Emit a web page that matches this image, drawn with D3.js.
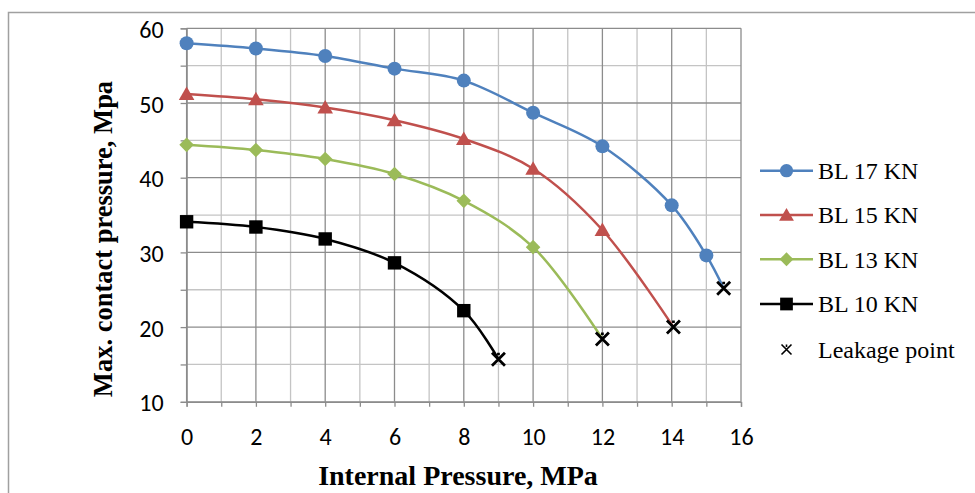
<!DOCTYPE html>
<html><head><meta charset="utf-8">
<script src="https://cdn.jsdelivr.net/npm/d3@7"></script>
<style>html,body{margin:0;padding:0;background:#fff;}svg{display:block;}</style>
</head><body>
<svg id="chart" width="975" height="493"></svg>
<script>
// ---- data ----
const seriesNames = ["BL 17 KN", "BL 15 KN", "BL 13 KN", "BL 10 KN"];
const x17 = [0, 2, 4, 6, 8, 10, 12, 14, 15];
const y17 = [58.0, 57.3, 56.3, 54.6, 53.0, 48.7, 44.2, 36.3, 29.6];
const x15 = [0, 2, 4, 6, 8, 10, 12];
const y15 = [51.2, 50.5, 49.4, 47.7, 45.2, 41.2, 33.0];
const x13 = [0, 2, 4, 6, 8, 10];
const y13 = [44.4, 43.7, 42.5, 40.5, 36.9, 30.7];
const x10 = [0, 2, 4, 6, 8];
const y10 = [34.1, 33.4, 31.8, 28.6, 22.2];
// leakage points (end of each curve), order: 17, 15, 13, 10
const leakX = [15.5, 14.05, 12.0, 9.0];
const leakY = [25.2, 20.0, 18.4, 15.7];
const xTicks = [0, 2, 4, 6, 8, 10, 12, 14, 16];
const yTicks = [10, 20, 30, 40, 50, 60];
const colors = ["#4F81BD", "#C0504D", "#9BBB59", "#000000"];
const markers = ["circle", "triangle", "diamond", "square"];

const svg = d3.select("#chart");
const x = d3.scaleLinear().domain([0, 16]).range([186.6, 741]);
const y = d3.scaleLinear().domain([10, 60]).range([401.8, 28.3]);

// outer border
svg.append("rect").attr("x", 8.5).attr("y", 12.5).attr("width", 1000).attr("height", 600)
  .attr("fill", "none").attr("stroke", "#a0a0a0").attr("stroke-width", 1.5);

// minor gridlines
const g = svg.append("g");
d3.range(1, 16, 2).forEach(v => g.append("line").attr("x1", x(v)).attr("x2", x(v))
  .attr("y1", y(10)).attr("y2", y(60)).attr("stroke", "#c4c4c4").attr("stroke-width", 1.3));
d3.range(15, 60, 10).forEach(v => g.append("line").attr("x1", x(0)).attr("x2", x(16))
  .attr("y1", y(v)).attr("y2", y(v)).attr("stroke", "#c4c4c4").attr("stroke-width", 1.3));
// major gridlines
xTicks.forEach(v => g.append("line").attr("x1", x(v)).attr("x2", x(v))
  .attr("y1", y(10)).attr("y2", y(60)).attr("stroke", "#8c8c8c").attr("stroke-width", 1.3));
yTicks.forEach(v => g.append("line").attr("x1", x(0)).attr("x2", x(16))
  .attr("y1", y(v)).attr("y2", y(v)).attr("stroke", "#8c8c8c").attr("stroke-width", 1.3));

// axes
const tickFont = "Carlito, 'Open Sans', 'Noto Sans', sans-serif";
const xAxis = d3.axisBottom(x).tickValues(d3.range(0, 17, 1)).tickSize(5).tickFormat(d => xTicks.includes(d) ? d : "");
const gx = svg.append("g").attr("transform", `translate(0,${y(10)})`).call(xAxis);
gx.attr("font-size", null).attr("font-family", null);
gx.select(".domain").attr("stroke", "#8c8c8c").attr("stroke-width", 1.3);
gx.selectAll(".tick line").attr("stroke", "#8c8c8c").attr("stroke-width", 1.3);
gx.selectAll(".tick text").style("font-family", tickFont).style("font-size", "24px")
  .attr("fill", "#000").attr("dy", "0").attr("y", 43);

const yAxis = d3.axisLeft(y).tickValues(d3.range(10, 61, 5)).tickSize(6).tickFormat(d => yTicks.includes(d) ? d : "");
const gy = svg.append("g").attr("transform", `translate(${x(0)},0)`).call(yAxis);
gy.attr("font-size", null).attr("font-family", null);
gy.select(".domain").attr("stroke", "#8c8c8c").attr("stroke-width", 1.3);
gy.selectAll(".tick line").attr("stroke", "#8c8c8c").attr("stroke-width", 1.3);
gy.selectAll(".tick text").style("font-family", tickFont).style("font-size", "24px")
  .attr("fill", "#000").attr("x", -23).attr("dy", "0.38em");

// curves
const xsAll = [x17, x15, x13, x10];
const ysAll = [y17, y15, y13, y10];
const line = d3.line().x(d => x(d[0])).y(d => y(d[1])).curve(d3.curveCatmullRom.alpha(0.5));

function drawMarker(sel, type, cx, cy, color, s) {
  if (type === "circle") {
    sel.append("circle").attr("cx", cx).attr("cy", cy).attr("r", 7 * s).attr("fill", color);
  } else if (type === "triangle") {
    const w = 7.8 * s, h = 13.5 * s;
    sel.append("path").attr("d", `M${cx},${cy - h * 0.55}L${cx + w},${cy + h * 0.45}L${cx - w},${cy + h * 0.45}Z`).attr("fill", color);
  } else if (type === "diamond") {
    const r = 7.3 * s;
    sel.append("path").attr("d", `M${cx},${cy - r}L${cx + r},${cy}L${cx},${cy + r}L${cx - r},${cy}Z`).attr("fill", color);
  } else if (type === "square") {
    const r = 6.7 * s;
    sel.append("rect").attr("x", cx - r).attr("y", cy - r).attr("width", 2 * r).attr("height", 2 * r).attr("fill", color);
  }
}
function drawLeak(sel, cx, cy, r, sw) {
  sel.append("path").attr("d", `M${cx - r},${cy - r}L${cx + r},${cy + r}M${cx - r},${cy + r}L${cx + r},${cy - r}M${cx},${cy - r}L${cx},${cy - r + 2.5}`)
    .attr("stroke", "#000").attr("stroke-width", sw).attr("fill", "none");
}

const plot = svg.append("g");
xsAll.forEach((xs, i) => {
  const pts = xs.map((v, j) => [v, ysAll[i][j]]).concat([[leakX[i], leakY[i]]]);
  plot.append("path").attr("d", line(pts)).attr("fill", "none").attr("stroke", colors[i]).attr("stroke-width", 2.5);
});
xsAll.forEach((xs, i) => {
  xs.forEach((v, j) => drawMarker(plot, markers[i], x(v), y(ysAll[i][j]), colors[i], 1));
});
leakX.forEach((v, i) => drawLeak(plot, x(v), y(leakY[i]), 6.5, 2.8));

// axis titles
svg.append("text").attr("x", 458).attr("y", 485).attr("text-anchor", "middle")
  .attr("font-family", "'Liberation Serif', 'Times New Roman', serif").attr("font-weight", "bold").attr("font-size", 28)
  .text("Internal Pressure, MPa");
svg.append("text").attr("transform", "translate(112,239) rotate(-90)").attr("text-anchor", "middle")
  .attr("font-family", "'Liberation Serif', 'Times New Roman', serif").attr("font-weight", "bold").attr("font-size", 26.5)
  .text("Max. contact pressure, Mpa");

// legend
const legRows = [170.7, 215, 259.3, 304];
const lg = svg.append("g");
const legFont = "'Liberation Serif', 'Times New Roman', serif";
seriesNames.forEach((name, i) => {
  const ry = legRows[i];
  lg.append("line").attr("x1", 760).attr("x2", 813).attr("y1", ry).attr("y2", ry).attr("stroke", colors[i]).attr("stroke-width", 2.5);
  drawMarker(lg, markers[i], 786.5, ry, colors[i], 0.95);
  lg.append("text").attr("x", 818).attr("y", ry).attr("dy", "0.35em")
    .attr("font-family", legFont).attr("font-size", 24).text(name);
});
drawLeak(lg, 786.5, 349.5, 5, 1.6);
lg.append("text").attr("x", 818).attr("y", 349.5).attr("dy", "0.35em")
  .attr("font-family", legFont).attr("font-size", 24).text("Leakage point");
</script>
</body></html>
